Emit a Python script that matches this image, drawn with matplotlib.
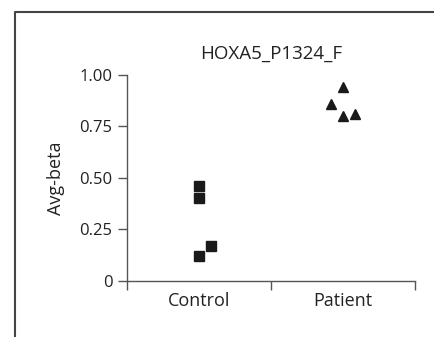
import matplotlib
matplotlib.use('Agg')
import matplotlib.pyplot as plt
from matplotlib.lines import Line2D

plt.rcParams['font.family'] = ['Open Sans', 'DejaVu Sans']

title = 'HOXA5_P1324_F'
groups = ['Control', 'Patient']
control_x = [0.50, 0.50, 0.50, 0.58]
control_y = [0.46, 0.40, 0.12, 0.17]
patient_x = [1.42, 1.50, 1.50, 1.58]
patient_y = [0.86, 0.94, 0.80, 0.81]
yticks = [0, 0.25, 0.50, 0.75, 1.00]
ytick_labels = ['0', '0.25', '0.50', '0.75', '1.00']

fig = plt.figure(figsize=(4.35, 3.37), dpi=100)
ax = fig.add_axes([127 / 435, 1 - 280.7 / 337, 288 / 435, 205.7 / 337])

ax.plot(control_x, control_y, 's', color='#1a1a1a', markersize=6.5, clip_on=False)
ax.plot(patient_x, patient_y, '^', color='#1a1a1a', markersize=7.5, clip_on=False)

ax.set_xlim(0, 2)
ax.set_ylim(0, 1)
ax.set_xticks([0, 1, 2])
ax.set_xticklabels([])
ax.set_xticks([0.5, 1.5], minor=True)
ax.set_xticklabels(groups, minor=True)
ax.tick_params(axis='x', which='minor', length=0, pad=8, labelsize=13, colors='#222222')
ax.tick_params(axis='x', which='major', length=6.3, width=1, color='#555555')
ax.set_yticks(yticks)
ax.set_yticklabels(ytick_labels)
ax.tick_params(axis='y', length=6.5, width=1, color='#555555', labelsize=12, labelcolor='#222222', pad=4)

for side in ['top', 'right']:
    ax.spines[side].set_visible(False)
for side in ['left', 'bottom']:
    ax.spines[side].set_color('#555555')
    ax.spines[side].set_linewidth(1)

ax.set_ylabel('Avg-beta', fontsize=13, color='#222222', labelpad=10)
ax.set_title(title, fontsize=13.5, color='#222222', pad=12)

# outer frame
fx = 15 / 435
fy = 1 - 12 / 337
fig.add_artist(Line2D([fx, fx, 1.0], [0, fy, fy], transform=fig.transFigure, color='#444444', linewidth=1.5))

plt.savefig('out.png', dpi=100)
